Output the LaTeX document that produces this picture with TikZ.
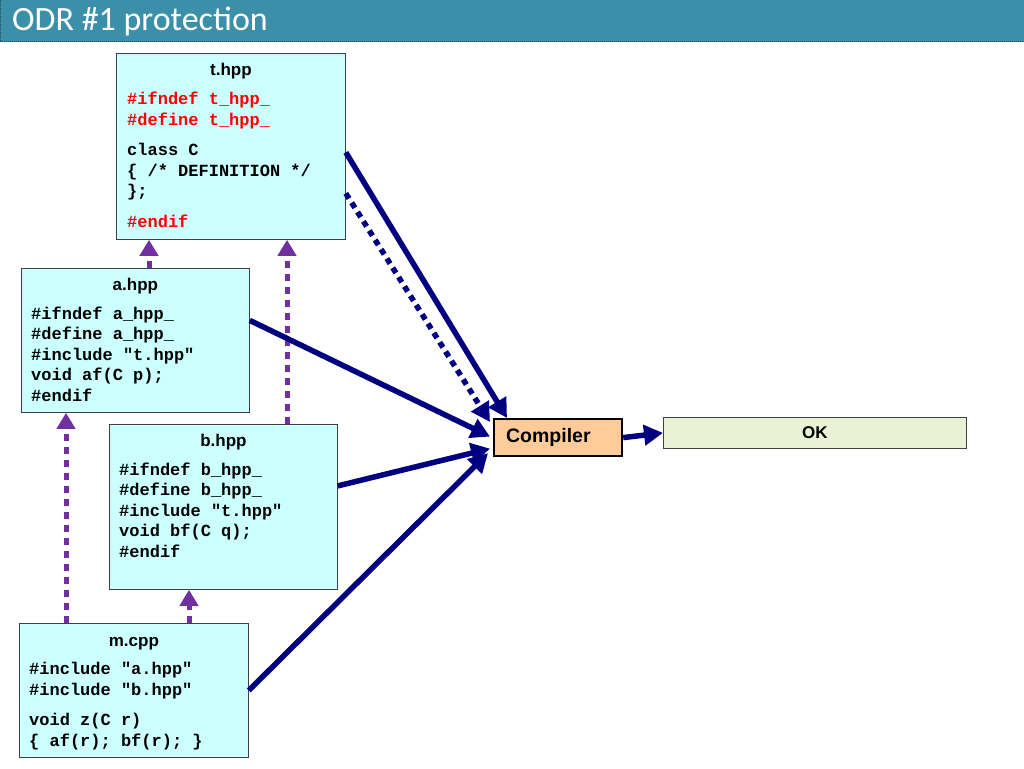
\documentclass[tikz,border=0pt]{standalone}
\usepackage{fontspec}
\setmainfont{Liberation Sans}
\newfontfamily\codefont{Liberation Mono}
\newfontfamily\slidefont{Carlito}
\usetikzlibrary{positioning,arrows.meta,calc}

\definecolor{slideteal}{RGB}{59,143,168}
\definecolor{filecyan}{RGB}{204,255,255}
\definecolor{comppeach}{RGB}{255,204,153}
\definecolor{okgreen}{RGB}{233,242,212}
\definecolor{feednavy}{RGB}{0,0,128}
\definecolor{incpurple}{RGB}{112,48,160}

\tikzset{
    filebox/.style={draw=black!75, fill=filecyan, line width=0.8pt, anchor=north west, inner sep=0pt},
    filename/.style={font=\fontsize{17}{20}\selectfont\bfseries, anchor=base, inner sep=0pt},
    code/.style={font=\fontsize{17}{20.6}\selectfont\codefont\bfseries, align=left, anchor=base west, inner sep=0pt},
    feed/.style={draw=feednavy, line width=5.5pt, -{Triangle[length=19pt,width=20pt]}},
    feeddot/.style={feed, dash pattern=on 6pt off 5pt},
    inc/.style={draw=incpurple, line width=5pt, dash pattern=on 7pt off 6pt, -{Triangle[length=16pt,width=18pt]}},
}

\begin{document}
\begin{tikzpicture}[x=1pt, y=-1pt]

    \useasboundingbox (0,0) rectangle (1024,768);

    % title bar
    \fill[slideteal] (0,0) rectangle (1024,42);
    \draw[slideteal!55!black, densely dotted, line width=1pt] (0,0) -- (0,42) -- (1024,42);
    \node[font=\fontsize{34}{36}\selectfont\slidefont, text=white, anchor=base west, inner sep=0pt]
        (title) at (12,31) {ODR \#1 protection};

    % files (code nodes sit on the baseline of their last line)
    \node[filebox, minimum width=229, minimum height=186] (t) at (116,53) {};
    \node[filename] (t-name) at ($(t.north)+(0,22)$) {t.hpp};
    \node[code] (t-code) at ($(t.north west)+(11,174.5)$)
        {\textcolor{red}{\#ifndef t\_hpp\_}\\
         \textcolor{red}{\#define t\_hpp\_}\\[10pt]
         class C\\
         \{ /* DEFINITION */\\
         \};\\[10pt]
         \textcolor{red}{\#endif}};

    \node[filebox, minimum width=228, minimum height=144] (a) at (21,268) {};
    \node[filename] (a-name) at ($(a.north)+(0,22)$) {a.hpp};
    \node[code] (a-code) at ($(a.north west)+(10,133.5)$)
        {\#ifndef a\_hpp\_\\
         \#define a\_hpp\_\\
         \#include "t.hpp"\\
         void af(C p);\\
         \#endif};

    \node[filebox, minimum width=228, minimum height=165] (b) at (109,424) {};
    \node[filename] (b-name) at ($(b.north)+(0,22)$) {b.hpp};
    \node[code] (b-code) at ($(b.north west)+(10,133.5)$)
        {\#ifndef b\_hpp\_\\
         \#define b\_hpp\_\\
         \#include "t.hpp"\\
         void bf(C q);\\
         \#endif};

    \node[filebox, minimum width=229, minimum height=134] (m) at (19,623) {};
    \node[filename] (m-name) at ($(m.north)+(0,23)$) {m.cpp};
    \node[code] (m-code) at ($(m.north west)+(10,123.5)$)
        {\#include "a.hpp"\\
         \#include "b.hpp"\\[10pt]
         void z(C r)\\
         \{ af(r); bf(r); \}};

    % compiler and result
    \node[draw=black, line width=2.2pt, fill=comppeach, anchor=north west, minimum height=37,
          text width=104, align=left, inner xsep=12pt, inner ysep=0pt,
          font=\fontsize{19.5}{22}\selectfont\bfseries] (comp) at (493,418) {Compiler};
    \node[draw=black!75, line width=0.8pt, fill=okgreen, anchor=north west, minimum width=303,
          minimum height=31, inner sep=0pt, font=\fontsize{17}{20}\selectfont\bfseries]
        (ok) at (663,417) {OK};

    % includes
    \draw[inc] ($(a.north west)+(128,0)$) -- ($(t.south west)+(33,0)$);
    \draw[inc] ($(b.north west)+(178,0)$) -- ($(t.south west)+(171,0)$);
    \draw[inc] ($(m.north west)+(47,0)$) -- ($(a.south west)+(45,0)$);
    \draw[inc] ($(m.north west)+(170,0)$) -- ($(b.south west)+(80,0)$);

    % into the compiler
    \draw[feed] ([yshift=-6pt]t.east) -- ($(comp.north west)+(14,0)$);
    \draw[feeddot] ([yshift=-47pt]t.east) -- ($(comp.north west)+(-3,4)$);
    \draw[feed] ([yshift=20pt]a.east) -- ($(comp.west)+(-3,-1)$);
    \draw[feed] ([yshift=21pt]b.east) -- ($(comp.west)+(-3,11)$);
    \draw[feed] (m.east) -- ($(comp.south west)+(-5,-4)$);
    \draw[feed] (comp.east) -- (ok.west);

\end{tikzpicture}
\end{document}
